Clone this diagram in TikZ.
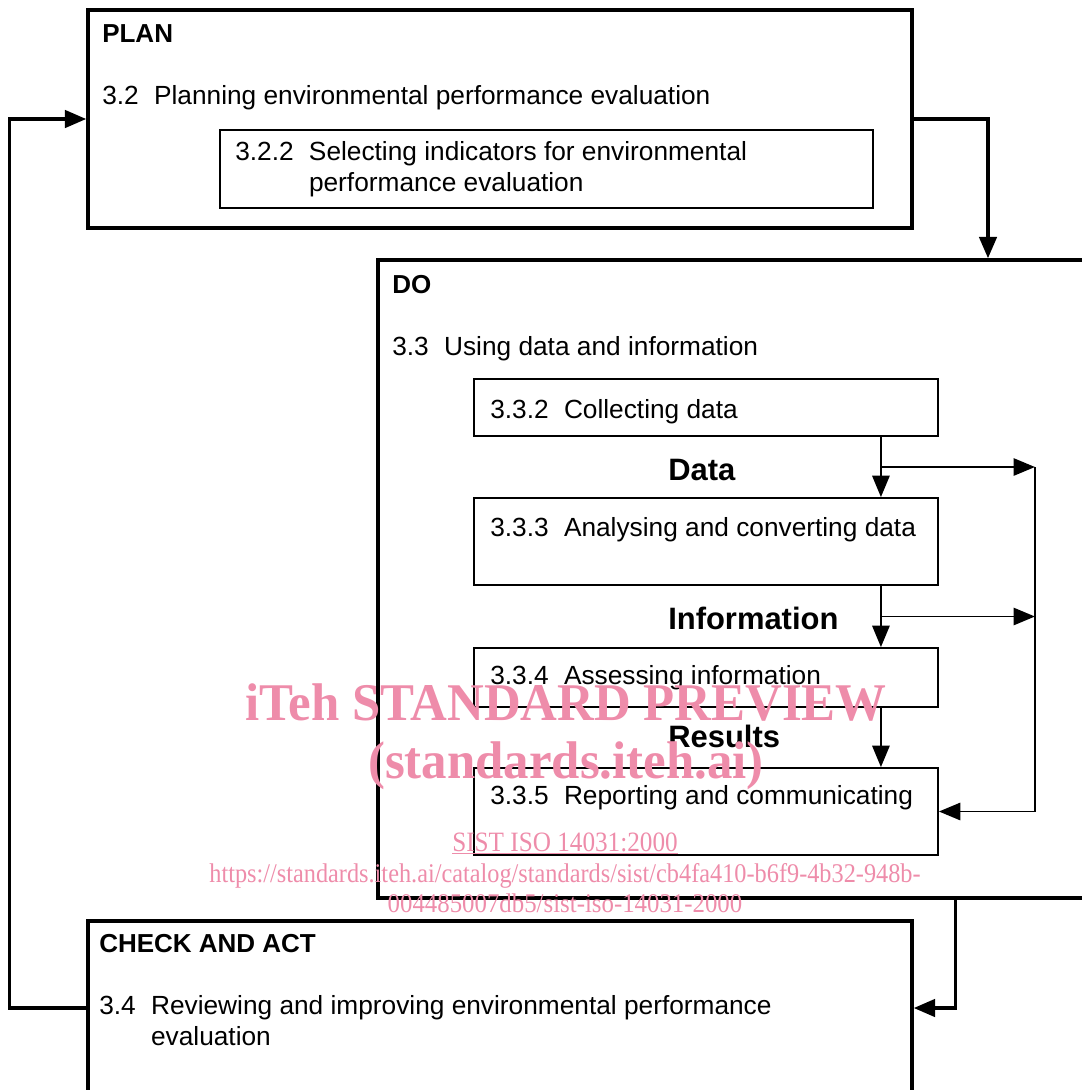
\documentclass[tikz,border=0pt]{standalone}
\usepackage{fontspec}
\setmainfont{Liberation Sans}
\newfontfamily\wmfont{Liberation Serif}
\usetikzlibrary{arrows.meta,fit,calc}
\definecolor{wmpink}{RGB}{238,140,170}
\newcommand{\sect}[2]{\begin{tabular}[t]{@{}l@{\hspace{11.5pt}}l@{}}#1&#2\end{tabular}}
\begin{document}
\begin{tikzpicture}[x=0.75pt,y=-0.75pt,
    bigbox/.style={draw,line width=2.6pt,inner sep=0pt},
    subbox/.style={draw,line width=1.4pt,inner sep=0pt},
    txt/.style={anchor=base west,inner sep=0pt,font=\fontsize{19.7}{23.6}\selectfont},
    head/.style={txt,font=\fontsize{19.5}{23.6}\selectfont\bfseries},
    flow/.style={txt,font=\fontsize{23.2}{27}\selectfont\bfseries},
    bigarr/.style={line width=2.6pt,-{Triangle[length=16pt,width=13pt]}},
    arr/.style={line width=1.3pt,-{Triangle[length=16pt,width=13pt]}},
    wm/.style={text=wmpink,inner sep=0pt,anchor=base}]
    \useasboundingbox (0,0) rectangle (1082,1090);
    \clip (0,0) rectangle (1082,1090);
    % boxes
    \node[bigbox,fit={(88,10) (912,228)}] (plan) {};
    \node[subbox,fit={(220,130) (873,208)}] (s322) {};
    \node[bigbox,fit={(378,260) (1598,898)}] (do) {};
    \node[subbox,fit={(474,379) (938,436)}] (s332) {};
    \node[subbox,fit={(474,498) (938,585)}] (s333) {};
    \node[subbox,fit={(474,648) (938,707)}] (s334) {};
    \node[subbox,fit={(474,768) (938,855)}] (s335) {};
    \node[bigbox,fit={(88,921) (912,1095)}] (check) {};
    % texts
    \node[head] (planT) at (102,42) {PLAN};
    \node[txt] (planS) at (102,104) {\sect{3.2}{Planning environmental performance evaluation}};
    \node[txt] (s322T) at (235,160) {\sect{3.2.2}{Selecting indicators for environmental\\&performance evaluation}};
    \node[head] (doT) at (392,293) {DO};
    \node[txt] (doS) at (392,355) {\sect{3.3}{Using data and information}};
    \node[txt] (s332T) at (490,418) {\sect{3.3.2}{Collecting data}};
    \node[flow] (dataT) at (668,480) {Data};
    \node[txt] (s333T) at (490,536) {\sect{3.3.3}{Analysing and converting data}};
    \node[flow] (infoT) at (668,629) {Information};
    \node[txt] (s334T) at (490,684) {\sect{3.3.4}{Assessing information}};
    \node[flow] (resT) at (668,747) {Results};
    \node[txt] (s335T) at (490,804) {\sect{3.3.5}{Reporting and communicating}};
    \node[head] (checkT) at (99,952) {CHECK AND ACT};
    \node[txt] (checkS) at (99,1014) {\sect{3.4}{Reviewing and improving environmental performance\\&evaluation}};
    % connectors
    \coordinate (b1) at ($(s332.south east)!.5!(s333.north east)+(-58,0)$);
    \coordinate (b2) at ($(s333.south east)!.5!(s334.north east)+(-58,0)$);
    \coordinate (bus) at ($(s335.east)+(96,0)$);
    \coordinate (dout) at ($(do.south west)+(579,0)$);
    \draw[bigarr] (plan.east) -| (do.north);
    \draw[bigarr] (dout) |- (check.east);
    \draw[bigarr] (check.west) -- ++(-77,0) |- (plan.west);
    \draw[arr] ([xshift=-43.5pt]s332.south east) -- ([xshift=-43.5pt]s333.north east);
    \draw[arr] ([xshift=-43.5pt]s333.south east) -- ([xshift=-43.5pt]s334.north east);
    \draw[arr] ([xshift=-43.5pt]s334.south east) -- ([xshift=-43.5pt]s335.north east);
    \draw[arr] (b1) -- (b1 -| bus);
    \draw[arr] (b2) -- (b2 -| bus);
    \draw[line width=1.3pt] (b1 -| bus) -- (bus);
    \draw[arr] (bus) -- (s335.east);
    % watermark
    \node[wm,font=\wmfont\fontsize{39.75}{40}\selectfont\bfseries] (wm1) at (566,720) {\scalebox{0.96}[1]{iTeh STANDARD PREVIEW}};
    \node[wm,font=\wmfont\fontsize{39.75}{40}\selectfont\bfseries] (wm2) at (566,778) {\scalebox{0.96}[1]{(standards.iteh.ai)}};
    \node[wm,font=\wmfont\fontsize{21}{22}\selectfont] (wm3) at (565,851) {\scalebox{0.9}[1]{\underline{SIST ISO 14031:2000}}};
    \node[wm,font=\wmfont\fontsize{20.25}{22}\selectfont] (wm4) at (565,882) {\scalebox{0.9}[1]{https://standards.iteh.ai/catalog/standards/sist/cb4fa410-b6f9-4b32-948b-}};
    \node[wm,font=\wmfont\fontsize{20.25}{22}\selectfont] (wm5) at (565,912) {\scalebox{0.92}[1]{004485007db5/sist-iso-14031-2000}};
\end{tikzpicture}
\end{document}
